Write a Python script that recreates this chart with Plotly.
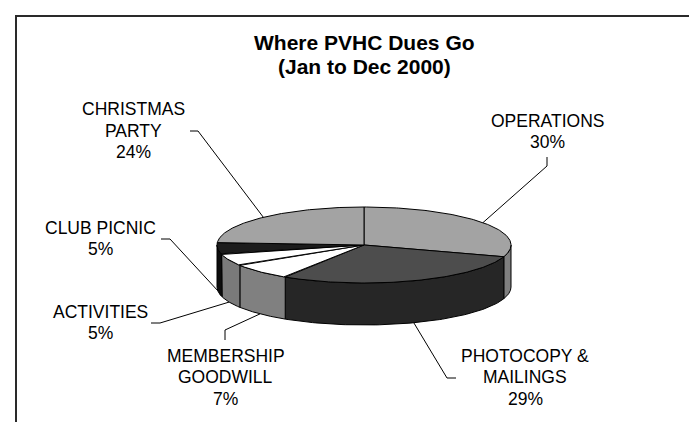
import numpy as np
import plotly.graph_objects as go

# ---------------- data ----------------
categories = ["OPERATIONS", "PHOTOCOPY & MAILINGS", "MEMBERSHIP GOODWILL",
              "ACTIVITIES", "CLUB PICNIC", "CHRISTMAS PARTY"]
values = [30, 29, 7, 5, 5, 24]
label_lines = [["OPERATIONS"], ["PHOTOCOPY &", "MAILINGS"], ["MEMBERSHIP", "GOODWILL"],
               ["ACTIVITIES"], ["CLUB PICNIC"], ["CHRISTMAS", "PARTY"]]
title_lines = ["Where PVHC Dues Go", "(Jan to Dec 2000)"]

# ---------------- styling / layout ----------------
top_colors = ["#A3A3A3", "#4D4D4D", "#FFFFFF", "#FFFFFF", "#1C1C1C", "#A3A3A3"]
side_colors = ["#7F7F7F", "#262626", "#808080", "#7A7A7A", "#0D0D0D", "#7F7F7F"]

W, H = 697, 422
CX, CY, RX, RY, DEPTH = 356, 237, 147, 38, 42
FONT = "Arial, Liberation Sans, sans-serif"
LFS = 17.5   # label font size
LSP = 21.5   # label line spacing
TFS = 21     # title font size

# label placement: (center x, first baseline), leader anchor, leader elbow
label_pos = [(539, 119), (517, 354), (217.5, 354), (92, 310), (92.5, 226), (125.5, 107.5)]
leader_anchor = [(539, 149), (448, 370), (217, 332), (143, 315), (153, 231), (182, 123)]
leader_elbow = [(539, 158), (439, 370), (217, 322), (152, 315), (162, 231), (190, 123)]


def pt(theta, dz=0.0):
    t = np.radians(theta)
    return CX + RX * np.sin(t), CY - RY * np.cos(t) + dz


fig = go.Figure()

total = sum(values)
starts, ends = [], []
acc = 0.0
for v in values:
    starts.append(acc / total * 360)
    acc += v
    ends.append(acc / total * 360)

# leader lines
for i in range(len(values)):
    mid = (starts[i] + ends[i]) / 2
    front = np.cos(np.radians(mid)) < 0
    ex, ey = pt(mid, DEPTH if front else 0)
    ax, ay = leader_anchor[i]
    bx, by = leader_elbow[i]
    fig.add_trace(go.Scatter(x=[ax, bx, ex], y=[ay, by, ey], mode="lines",
                             line=dict(color="black", width=1), hoverinfo="skip",
                             showlegend=False))

# side walls (front half only)
for i in range(len(values)):
    a1, a2 = max(starts[i], 90), min(ends[i], 270)
    if a1 >= a2:
        continue
    th = np.linspace(a1, a2, 80)
    xt, yt = pt(th)
    xb, yb = pt(th[::-1], DEPTH)
    xs = np.concatenate([xt, xb, xt[:1]])
    ys = np.concatenate([yt, yb, yt[:1]])
    fig.add_trace(go.Scatter(x=xs, y=ys, mode="lines", fill="toself",
                             fillcolor=side_colors[i], line=dict(color="black", width=1),
                             hoverinfo="skip", showlegend=False))

# top faces
for i in range(len(values)):
    th = np.linspace(starts[i], ends[i], 120)
    xa, ya = pt(th)
    xs = np.concatenate([[CX], xa, [CX]])
    ys = np.concatenate([[CY], ya, [CY]])
    fig.add_trace(go.Scatter(x=xs, y=ys, mode="lines", fill="toself",
                             fillcolor=top_colors[i], line=dict(color="black", width=1),
                             hoverinfo="skip", showlegend=False))

annotations = []
# title
for k, (line, base) in enumerate(zip(title_lines, [41.7, 66])):
    annotations.append(dict(x=356.5, y=base - 0.35 * TFS, xref="x", yref="y", text="<b>%s</b>" % line,
                            showarrow=False, xanchor="center", yanchor="middle",
                            font=dict(family=FONT, size=TFS, color="black")))

# labels
for i in range(len(values)):
    lines = label_lines[i] + ["%d%%" % values[i]]
    cx, b0 = label_pos[i]
    for k, line in enumerate(lines):
        base = b0 + k * LSP
        annotations.append(dict(x=cx, y=base - 0.35 * LFS, xref="x", yref="y", text=line,
                                showarrow=False, xanchor="center", yanchor="middle",
                                font=dict(family=FONT, size=LFS, color="black")))

fig.update_layout(
    width=W, height=H, autosize=False,
    margin=dict(l=0, r=0, t=0, b=0),
    paper_bgcolor="white", plot_bgcolor="white",
    xaxis=dict(range=[0, W], visible=False, fixedrange=True),
    yaxis=dict(range=[H, 0], visible=False, fixedrange=True),
    annotations=annotations,
    shapes=[dict(type="rect", xref="x", yref="y", x0=8, y0=8, x1=W + 10, y1=H + 10,
                 line=dict(color="#2A2A2A", width=2), fillcolor="rgba(0,0,0,0)", layer="below")],
    showlegend=False,
)

fig.write_html("out.html")
